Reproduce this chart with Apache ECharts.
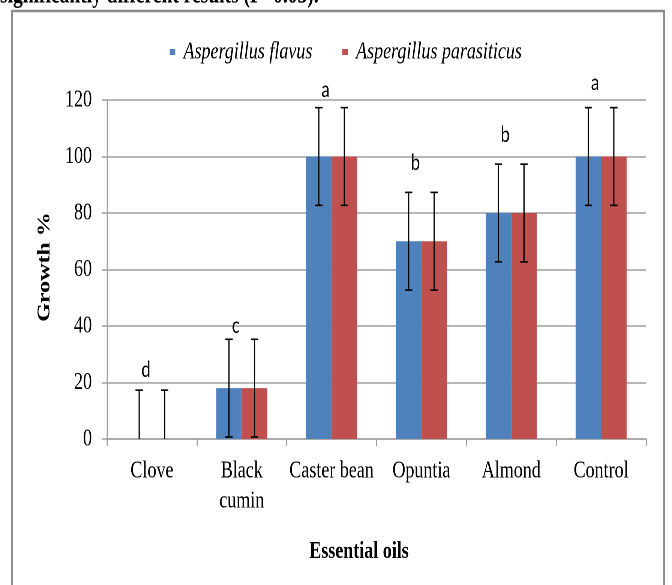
<!DOCTYPE html>
<html>
<head>
<meta charset="utf-8">
<script src="https://cdn.jsdelivr.net/npm/echarts@6/dist/echarts.min.js"></script>
<style>
  html, body { margin: 0; padding: 0; overflow: hidden; background: #fff; width: 672px; height: 585px; }
  /* Typeset in a wider box, then compressed horizontally for the narrow type face look */
  #chart { width: 896px; height: 585px; transform: scaleX(0.75); transform-origin: 0 0; }
</style>
</head>
<body>
<div id="chart"></div>
<script>
// Essential oil growth data (%), two fungi, with standard deviations
const categories = ['Clove', 'Black\ncumin', 'Caster bean', 'Opuntia', 'Almond', 'Control'];
const flavus = [0, 18, 100, 70, 80, 100];
const parasiticus = [0, 18, 100, 70, 80, 100];
const flavusErr = [17.3, 17.3, 17.3, 17.3, 17.3, 17.3];
const parasiticusErr = [17.3, 17.3, 17.3, 17.3, 17.3, 17.3];
// Significance letters and the height at which each one sits
const groupLetters = ['d', 'c', 'a', 'b', 'b', 'a'];
const letterHeights = [24.4, 40.1, 123.5, 97.7, 107.6, 126.1];
const yMin = 0, yMax = 120, yStep = 20;

const SX = 0.75;               // horizontal compression of the container
const px = v => v / SX;        // convert on-screen x into chart space
const BAR_W = px(25.5);
const serif = '"Liberation Serif", "Times New Roman", serif';

function errorBars(values, errs, offset) {
  return {
    type: 'custom',
    coordinateSystem: 'cartesian2d',
    clip: true,
    silent: true,
    z: 10,
    data: values.map((v, i) => [i, v, errs[i]]),
    encode: { x: 0, y: 1 },
    renderItem: function (params, api) {
      const i = api.value(0), v = api.value(1), e = api.value(2);
      const top = api.coord([i, v + e]);
      const bot = api.coord([i, v - e]);
      const x = top[0] + offset;
      const hw = px(3.7);
      const st = { stroke: '#000', lineWidth: 1.6 };
      return {
        type: 'group',
        children: [
          { type: 'line', shape: { x1: x, y1: top[1], x2: x, y2: bot[1] }, style: st },
          { type: 'line', shape: { x1: x - hw, y1: top[1], x2: x + hw, y2: top[1] }, style: st },
          { type: 'line', shape: { x1: x - hw, y1: bot[1], x2: x + hw, y2: bot[1] }, style: st }
        ]
      };
    }
  };
}

// Significance letters drawn as text placed on the axes
function letterMarks() {
  return {
    type: 'custom',
    coordinateSystem: 'cartesian2d',
    silent: true,
    z: 12,
    data: letterHeights.map((h, i) => [i, h, i]),
    encode: { x: 0, y: 1 },
    renderItem: function (params, api) {
      const p = api.coord([api.value(0), api.value(1)]);
      return {
        type: 'text',
        x: p[0] - 8,
        y: p[1],
        style: {
          text: groupLetters[api.value(2)],
          font: '22px Lato, "Open Sans", sans-serif',
          fill: '#000', align: 'center', verticalAlign: 'middle'
        }
      };
    }
  };
}

const chart = echarts.init(document.getElementById('chart'), null, { renderer: 'canvas', devicePixelRatio: 2 });

chart.setOption({
  animation: false,
  backgroundColor: '#fff',
  grid: { left: px(107), right: 896 - px(646), top: 100, bottom: 146, containLabel: false },
  legend: {
    data: ['Aspergillus flavus', 'Aspergillus parasiticus'],
    left: px(166),
    top: 35,
    icon: 'rect',
    itemWidth: px(5.5),
    itemHeight: 6,
    itemGap: px(30),
    textStyle: { fontFamily: serif, fontStyle: 'italic', fontSize: 24, color: '#000', padding: [0, 0, 0, 6] }
  },
  xAxis: {
    type: 'category',
    data: categories,
    boundaryGap: true,
    axisLine: { lineStyle: { color: '#a0a0a0', width: 1.5 } },
    axisTick: { show: true, length: 7, lineStyle: { color: '#a0a0a0', width: 1.5 } },
    axisLabel: { interval: 0, margin: 17, fontFamily: serif, fontSize: 24, lineHeight: 30, color: '#000' },
    splitLine: { show: false }
  },
  yAxis: {
    type: 'value',
    min: yMin, max: yMax, interval: yStep,
    axisLine: { show: true, lineStyle: { color: '#a0a0a0', width: 1.5 } },
    axisTick: { show: true, length: 7, lineStyle: { color: '#a0a0a0', width: 1.5 } },
    axisLabel: { margin: 20, fontFamily: serif, fontSize: 24, color: '#000' },
    splitLine: { show: true, lineStyle: { color: '#a0a0a0', width: 1.5 } }
  },
  graphic: [
    { type: 'rect', silent: true, z: 100,
      shape: { x: px(12), y: 11, width: px(664) - px(12), height: 620 },
      style: { fill: 'none', stroke: '#8c8c8c', lineWidth: 2.4 } },
    { type: 'text', silent: true, x: 0, y: -4,
      style: { text: 'significantly different results (P<0.05).', font: 'bold 26px ' + serif, fill: '#000', verticalAlign: 'middle', align: 'left' } },
    { type: 'text', silent: true, x: px(45), y: 267, rotation: Math.PI / 2,
      style: { text: 'Growth %', font: 'bold 24px ' + serif, fill: '#000', align: 'center', verticalAlign: 'middle' } },
    { type: 'text', silent: true, x: px(359), y: 552,
      style: { text: 'Essential oils', font: 'bold 24px ' + serif, fill: '#000', align: 'center', verticalAlign: 'middle' } }
  ],
  series: [
    { name: 'Aspergillus flavus', type: 'bar', data: flavus, barWidth: BAR_W, barGap: '0%',
      itemStyle: { color: '#4F81BD' } },
    { name: 'Aspergillus parasiticus', type: 'bar', data: parasiticus, barWidth: BAR_W, barGap: '0%',
      itemStyle: { color: '#C0504D' } },
    errorBars(flavus, flavusErr, -BAR_W / 2),
    errorBars(parasiticus, parasiticusErr, BAR_W / 2),
    letterMarks()
  ]
});
</script>
</body>
</html>
